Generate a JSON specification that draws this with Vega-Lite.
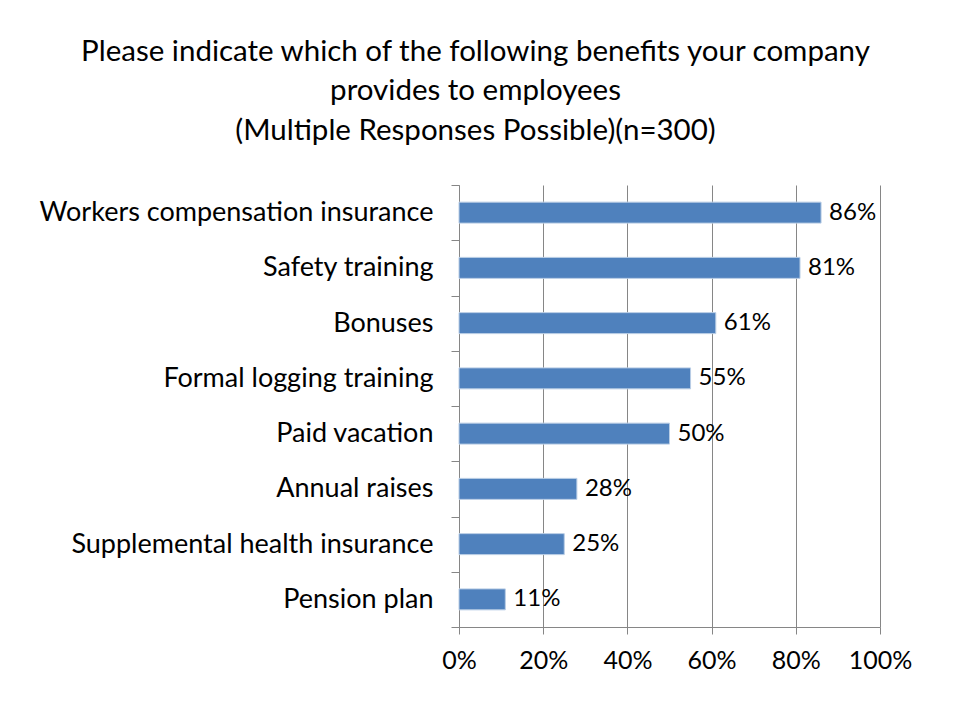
{
  "$schema": "https://vega.github.io/schema/vega-lite/v6.json",
  "width": 421,
  "height": 442,
  "autosize": {"type": "none"},
  "padding": {"left": 459, "top": 185, "right": 80, "bottom": 94},
  "background": "white",
  "title": {
    "text": ["Please indicate which of the following benefits your company", "provides to employees", "(Multiple Responses Possible)(n=300)"],
    "anchor": "middle",
    "dx": -194,
    "offset": 25,
    "font": "Lato",
    "fontSize": 29.5,
    "fontWeight": "normal",
    "lineHeight": 39.5,
    "color": "black"
  },
  "data": {
    "values": [
      {"benefit": "Workers compensation insurance", "share": 0.86},
      {"benefit": "Safety training", "share": 0.81},
      {"benefit": "Bonuses", "share": 0.61},
      {"benefit": "Formal logging training", "share": 0.55},
      {"benefit": "Paid vacation", "share": 0.50},
      {"benefit": "Annual raises", "share": 0.28},
      {"benefit": "Supplemental health insurance", "share": 0.25},
      {"benefit": "Pension plan", "share": 0.11}
    ]
  },
  "encoding": {
    "y": {
      "field": "benefit",
      "type": "nominal",
      "sort": "-x",
      "scale": {"paddingInner": 0, "paddingOuter": 0},
      "axis": {
        "title": null,
        "tickBand": "extent",
        "tickSize": 8,
        "tickColor": "#868686",
        "domainColor": "#868686",
        "labelFont": "Lato",
        "labelFontSize": 27,
        "labelColor": "black",
        "labelPadding": 18,
        "labelLimit": 0,
        "grid": false
      }
    },
    "x": {
      "field": "share",
      "type": "quantitative",
      "scale": {"domain": [0, 1], "nice": false},
      "axis": {
        "title": null,
        "format": ".0%",
        "values": [0, 0.2, 0.4, 0.6, 0.8, 1],
        "tickSize": 7,
        "tickColor": "#868686",
        "domainColor": "#868686",
        "gridColor": "#868686",
        "labelFont": "Lato",
        "labelFontSize": 25,
        "labelColor": "black",
        "labelPadding": 14,
        "labelFlush": false
      }
    }
  },
  "layer": [
    {"mark": {"type": "bar", "color": "#4F81BD", "stroke": "#B9CDE5", "strokeWidth": 1, "height": {"band": 0.38}}},
    {
      "mark": {"type": "text", "align": "left", "baseline": "middle", "dx": 8, "font": "Lato", "fontSize": 24, "color": "black"},
      "encoding": {"text": {"field": "share", "type": "quantitative", "format": ".0%"}}
    }
  ],
  "config": {"view": {"stroke": null}}
}
